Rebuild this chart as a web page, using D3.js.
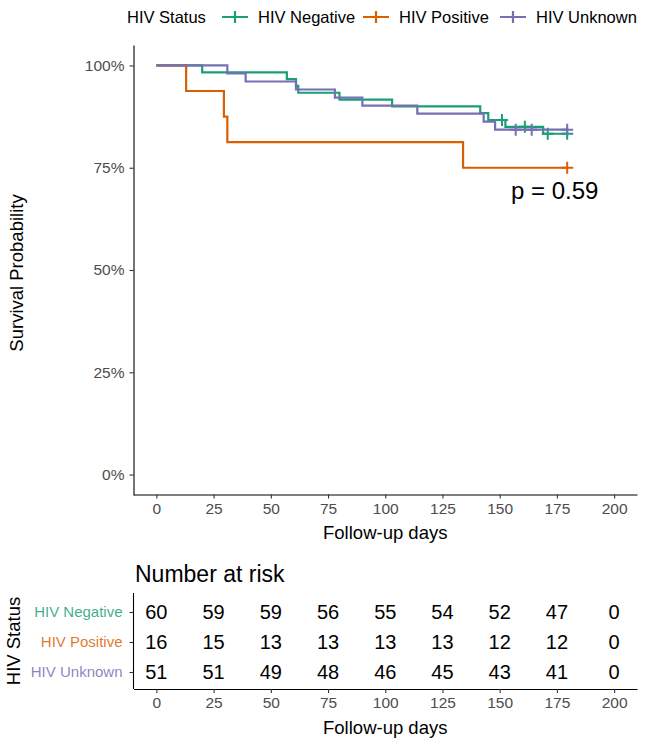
<!DOCTYPE html>
<html><head><meta charset="utf-8">
<script src="https://cdn.jsdelivr.net/npm/d3@7"></script>
<style>body{margin:0;background:#fff}svg{display:block}text{font-family:"Liberation Sans",Arial,sans-serif}</style>
</head><body><svg id="c" width="645" height="745"></svg>
<script>
// ---- data ----
const groups = ["HIV Negative", "HIV Positive", "HIV Unknown"];
const colors = ["#1B9E77", "#D95F02", "#7570B3"];
// step curves (time in days, survival probability)
const negTimes = [0, 20, 57, 61, 62, 80, 103, 141.5, 145, 152.5, 169, 179.5];
const negSurv  = [1, 0.9833, 0.9667, 0.95, 0.9333, 0.9167, 0.9, 0.8833, 0.8667, 0.85, 0.833, 0.833];
const negCensor = [151, 161, 171, 179.5];
const posTimes = [0, 13, 29.5, 31, 134, 179.5];
const posSurv  = [1, 0.9375, 0.875, 0.8125, 0.75, 0.75];
const posCensor = [179.5];
const unkTimes = [0, 31, 39, 61, 78, 90, 114, 143, 148, 179.5];
const unkSurv  = [1, 0.9804, 0.9608, 0.9412, 0.9216, 0.902, 0.8824, 0.8627, 0.8431, 0.8431];
const unkCensor = [157, 164, 179.5];
// number at risk
const riskTimes = [0, 25, 50, 75, 100, 125, 150, 175, 200];
const riskNeg = [60, 59, 59, 56, 55, 54, 52, 47, 0];
const riskPos = [16, 15, 13, 13, 13, 13, 12, 12, 0];
const riskUnk = [51, 51, 49, 48, 46, 45, 43, 41, 0];
const xTicks = [0, 25, 50, 75, 100, 125, 150, 175, 200];
const yTicks = [0, 0.25, 0.5, 0.75, 1];
const pLabel = "p = 0.59";

// ---- drawing ----
const svg = d3.select("#c");
const x = d3.scaleLinear().domain([-10, 210]).range([133.5, 637]);
const y = d3.scaleLinear().domain([-0.05, 1.05]).range([495, 45]);
const tickCol = "#4D4D4D";

const series = [
  {t: negTimes, s: negSurv, c: negCensor},
  {t: posTimes, s: posSurv, c: posCensor},
  {t: unkTimes, s: unkSurv, c: unkCensor}
];
function survAt(d, t) { let v = d.s[0]; d.t.forEach((tt, i) => { if (tt <= t) v = d.s[i]; }); return v; }

function styleAxis(g) {
  g.select(".domain").attr("stroke", "#000").attr("stroke-width", 1.1);
  g.selectAll(".tick line").attr("stroke", "#333").attr("stroke-width", 1.1);
  g.selectAll(".tick text").attr("fill", tickCol).style("font-size", "15.5px");
}
const gx = svg.append("g").attr("transform", "translate(0,494.5)")
  .call(d3.axisBottom(x).tickValues(xTicks).tickSize(4).tickPadding(4).tickSizeOuter(0));
styleAxis(gx);
const gy = svg.append("g").attr("transform", "translate(133.5,0)")
  .call(d3.axisLeft(y).tickValues(yTicks).tickFormat(d3.format(".0%")).tickSize(4).tickPadding(5).tickSizeOuter(0));
styleAxis(gy);

const line = d3.line().x(d => x(d[0])).y(d => y(d[1])).curve(d3.curveStepAfter);
series.forEach((d, i) => {
  svg.append("path").attr("d", line(d.t.map((t, j) => [t, d.s[j]])))
    .attr("fill", "none").attr("stroke", colors[i]).attr("stroke-width", 2.2);
  d.c.forEach(ct => {
    const cx = x(ct), cy = y(survAt(d, ct));
    svg.append("path").attr("d", `M${cx-6},${cy}H${cx+6}M${cx},${cy-6}V${cy+6}`)
      .attr("stroke", colors[i]).attr("stroke-width", 2);
  });
});

svg.append("text").attr("x", 511).attr("y", 199).style("font-size", "24px").attr("fill", "#000").text(pLabel);

svg.append("text").attr("x", x(100)).attr("y", 539).attr("text-anchor", "middle")
  .style("font-size", "18.5px").attr("fill", "#000").text("Follow-up days");
svg.append("text").attr("transform", "translate(23,273) rotate(-90)").attr("text-anchor", "middle")
  .style("font-size", "18.5px").attr("fill", "#000").text("Survival Probability");

// legend
const lg = svg.append("g");
lg.append("text").attr("x", 127).attr("y", 23).style("font-size", "16.5px").text("HIV Status");
const legX = [222, 363, 500];
groups.forEach((g, i) => {
  const lx = legX[i];
  lg.append("path").attr("d", `M${lx},17H${lx+26}M${lx+13},11V23`).attr("stroke", colors[i]).attr("stroke-width", 2.2);
  lg.append("text").attr("x", lx + 36).attr("y", 23).style("font-size", "16.5px").text(g);
});

// risk table
svg.append("text").attr("x", 135).attr("y", 582).style("font-size", "23px").attr("fill", "#000").text("Number at risk");
const ry = d3.scalePoint().domain(groups).range([612, 672]);
const gtx = svg.append("g").attr("transform", "translate(0,689)")
  .call(d3.axisBottom(x).tickValues(xTicks).tickSize(4).tickPadding(4).tickSizeOuter(0));
styleAxis(gtx);
const gty = svg.append("g").attr("transform", "translate(133.5,0)")
  .call(d3.axisLeft(ry).tickSize(4).tickPadding(7).tickSizeOuter(0));
gty.select(".domain").attr("d", "M0,593V689").attr("stroke", "#000").attr("stroke-width", 1.1);
gty.selectAll(".tick line").attr("stroke", "#333").attr("stroke-width", 1.1);
gty.selectAll(".tick text").style("font-size", "15px").attr("fill", (d, i) => colors[i]).attr("fill-opacity", 0.85);

const risks = [riskNeg, riskPos, riskUnk];
risks.forEach((r, i) => {
  r.forEach((v, j) => {
    svg.append("text").attr("x", x(riskTimes[j])).attr("y", ry(groups[i]))
      .attr("dy", "0.36em").attr("text-anchor", "middle").style("font-size", "20px").attr("fill", "#000").text(v);
  });
});
svg.append("text").attr("x", x(100)).attr("y", 734).attr("text-anchor", "middle")
  .style("font-size", "18.5px").attr("fill", "#000").text("Follow-up days");
svg.append("text").attr("transform", "translate(20,641) rotate(-90)").attr("text-anchor", "middle")
  .style("font-size", "18.5px").attr("fill", "#000").text("HIV Status");
</script></body></html>
